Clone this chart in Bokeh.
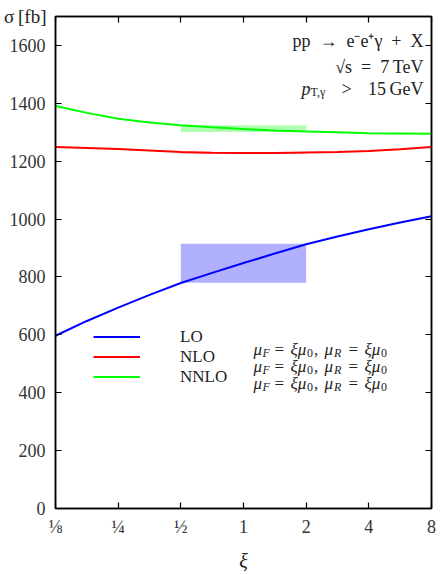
from bokeh.plotting import figure
from bokeh.models import (Range1d, FixedTicker, LinearAxis, LogAxis, Label, Legend,
                          LegendItem, ColumnDataSource)
from bokeh.embed import file_html
from bokeh.resources import INLINE

# ---- data ----
xi = [0.125, 0.177, 0.25, 0.354, 0.5, 0.707, 1.0, 1.414, 2.0, 2.828, 4.0, 5.657, 8.0]
lo = [597, 648, 694, 738, 779, 814, 848, 881, 913, 940, 965, 988, 1010]
nlo = [1249, 1246, 1242, 1237, 1232, 1229, 1228, 1228, 1230, 1232, 1235, 1241, 1249]
nnlo = [1391, 1367, 1347, 1334, 1324, 1317, 1311, 1306, 1303, 1300, 1297, 1296, 1295]

band_left = [0.5, 0.5, 0.5]
band_right = [2.0, 2.0, 2.0]
band_bottom = [780, 1226, 1301]
band_top = [915, 1232, 1324]
band_colors = ["#b0b0ff", "#ffb0b0", "#b0ffb0"]

x_ticks = [0.125, 0.25, 0.5, 1, 2, 4, 8]
x_tick_labels = ["\u215b", "\u00bc", "\u00bd", "1", "2", "4", "8"]
y_ticks = [0, 200, 400, 600, 800, 1000, 1200, 1400, 1600]

series_names = ["LO", "NLO", "NNLO"]
series_colors = ["#0000ff", "#ff0000", "#00ff00"]

FONT = "Liberation Serif"
XMIN, XMAX, YMIN, YMAX = 0.125, 8.0, 0, 1700
FL, FT, FB = 55, 16, 508  # frame left / top / bottom in canvas pixels

p = figure(width=440, height=574, x_axis_type="log",
           x_range=Range1d(XMIN, XMAX), y_range=Range1d(YMIN, YMAX),
           output_backend="svg", toolbar_location=None,
           min_border_left=FL, min_border_right=9, min_border_top=FT,
           min_border_bottom=574 - FB)
p.grid.visible = False
p.outline_line_color = "black"
p.outline_line_width = 1.5
p.background_fill_color = "white"
p.border_fill_color = "white"

# bands
bsrc = ColumnDataSource(dict(left=band_left, right=band_right, bottom=band_bottom,
                             top=band_top, color=band_colors))
p.quad(left="left", right="right", bottom="bottom", top="top", fill_color="color",
       line_color=None, source=bsrc)

renderers = []
for vals, col in zip([lo, nlo, nnlo], series_colors):
    r = p.line(xi, vals, line_color=col, line_width=2)
    renderers.append(r)


def style_axis(ax, labels=True):
    ax.axis_line_color = "black"
    ax.axis_line_width = 1.5
    ax.major_tick_in = 6
    ax.major_tick_out = 0
    ax.major_tick_line_color = "black"
    ax.major_tick_line_width = 1.2
    ax.minor_tick_line_color = None
    ax.major_label_text_font = FONT
    ax.major_label_text_color = "#333333"
    ax.axis_label_text_font = FONT
    ax.axis_label_text_color = "#222222"
    if labels:
        ax.major_label_text_font_size = "18px"
    else:
        ax.major_label_text_font_size = "0px"
        ax.major_label_standoff = 0


xa = p.xaxis[0]
xa.ticker = FixedTicker(ticks=x_ticks)
xa.major_label_overrides = {t: l for t, l in zip(x_ticks, x_tick_labels)}
style_axis(xa)
xa.major_label_standoff = 8
xa.axis_label = "\u03be"
xa.axis_label_text_font_style = "italic"
xa.axis_label_text_font_size = "20px"
xa.axis_label_standoff = 10

ya = p.yaxis[0]
ya.ticker = FixedTicker(ticks=y_ticks)
style_axis(ya)
ya.major_label_standoff = 10
ya.axis_label = "\u03c3\u2009[fb]"
ya.axis_label_text_font_style = "normal"
ya.axis_label_text_font_size = "19px"
ya.axis_label_orientation = "horizontal"
ya.axis_label_standoff = -40
try:
    ya.axis_label_align = "end"
except Exception:
    pass

top_ax = LogAxis(ticker=FixedTicker(ticks=x_ticks))
style_axis(top_ax, labels=False)
top_ax.major_label_overrides = {t: "" for t in x_ticks}
p.add_layout(top_ax, "above")
right_ax = LinearAxis(ticker=FixedTicker(ticks=y_ticks))
style_axis(right_ax, labels=False)
right_ax.major_label_overrides = {t: "" for t in y_ticks}
p.add_layout(right_ax, "right")


def lab(text, px, py, size, style="normal", align="left", baseline="alphabetic"):
    p.add_layout(Label(x=px - FL, y=FB - py, x_units="screen", y_units="screen",
                       text=text, text_font=FONT, text_font_size=f"{size}px",
                       text_font_style=style, text_align=align,
                       text_baseline=baseline, text_color="#222222"))


# process annotation
lab("pp\u2002\u2192\u2002e\u207be\u207a\u03b3\u2002+\u2002X", 423, 40, 18, align="right")
lab("\u221as\u2002=\u20027\u2009TeV", 423, 66, 18, align="right")
lab("p", 301, 88, 18, style="italic")
lab("T,\u03b3", 310, 91, 12)
lab(">", 341, 88, 18)
lab("15\u2009GeV", 423, 88, 18, align="right")

# legend
legend = Legend(items=[LegendItem(label=n, renderers=[r]) for n, r in zip(series_names, renderers)],
                location=(38, 121.5), glyph_width=47, glyph_height=17, label_height=17,
                label_standoff=40, spacing=0, padding=0, margin=0,
                border_line_color=None, background_fill_alpha=0,
                label_text_font=FONT, label_text_font_size="17px",
                label_text_color="#222222")
p.add_layout(legend)

for i in range(3):
    b = 349 + 17 * i
    lab("\u03bc", 253, b, 17, style="italic")
    lab("F", 262, b + 3, 12, style="italic")
    lab("=", 274, b, 17)
    lab("\u03be\u03bc", 290, b, 17, style="italic")
    lab("0", 306.5, b + 3, 12)
    lab(",", 313.5, b, 17)
    lab("\u03bc", 324, b, 17, style="italic")
    lab("R", 333.5, b + 3, 12, style="italic")
    lab("=", 348, b, 17)
    lab("\u03be\u03bc", 364, b, 17, style="italic")
    lab("0", 380.5, b + 3, 12)

open("out.html", "w").write(file_html(p, INLINE))
